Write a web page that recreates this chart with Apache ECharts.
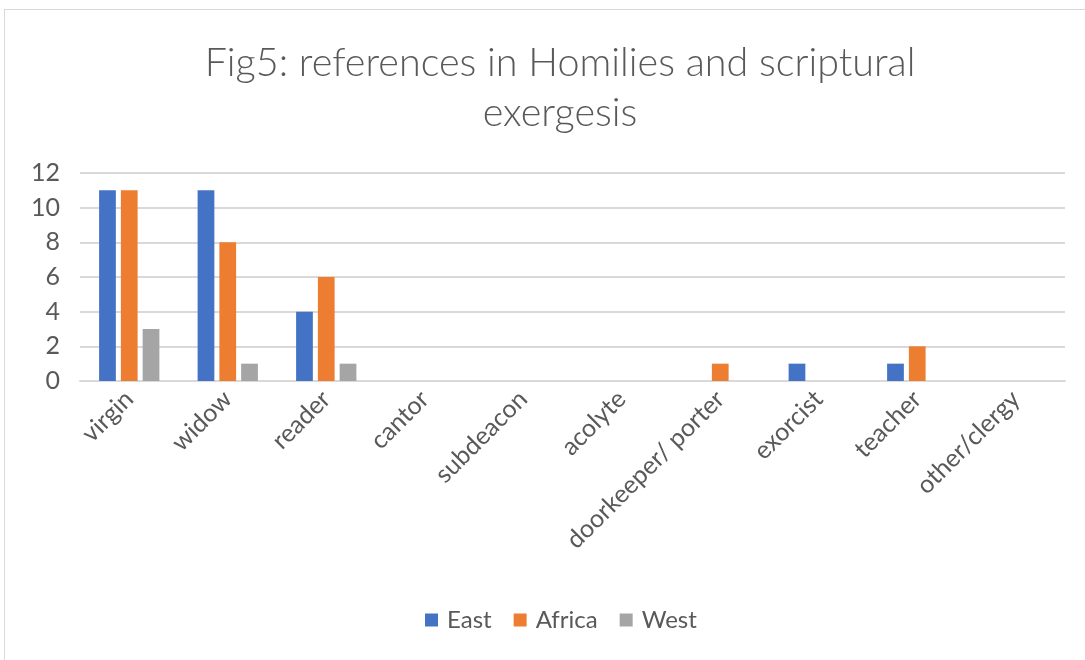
<!DOCTYPE html>
<html>
<head>
<meta charset="utf-8">
<script src="https://cdn.jsdelivr.net/npm/echarts@6/dist/echarts.min.js"></script>
<style>
  html, body { margin: 0; padding: 0; background: #fff; }
  #frame { position: absolute; left: 4px; top: 9px; width: 1090px; height: 660px; border: 1px solid #d9d9d9; box-sizing: border-box; }
  #chart { position: absolute; left: 0; top: 0; width: 1085px; height: 660px; }
</style>
</head>
<body>
<div id="frame"></div>
<div id="chart"></div>
<script>
var categories = ['virgin', 'widow', 'reader', 'cantor', 'subdeacon', 'acolyte', 'doorkeeper/ porter', 'exorcist', 'teacher', 'other/clergy'];
var east = [11, 11, 4, 0, 0, 0, 0, 1, 1, 0];
var africa = [11, 8, 6, 0, 0, 0, 1, 0, 2, 0];
var west = [3, 1, 1, 0, 0, 0, 0, 0, 0, 0];
var yTicks = { min: 0, max: 12, interval: 2 };

var font = "Lato, 'Liberation Sans', sans-serif";
var txt = '#595959';

function pageInit() {
    var myChart = echarts.init(document.getElementById('chart'));
    var option = {
        animation: false,
        title: {
            text: 'Fig5: references in Homilies and scriptural\nexergesis',
            left: 555,
            textAlign: 'center',
            top: 33,
            textStyle: { fontFamily: font, fontSize: 39.5, fontWeight: 300, color: txt, lineHeight: 50 }
        },
        legend: {
            bottom: 23,
            left: 420,
            itemWidth: 13,
            itemHeight: 13,
            itemGap: 22,
            icon: 'rect',
            textStyle: { fontFamily: font, fontSize: 24, color: txt, padding: [0, 0, 0, 4] }
        },
        grid: { left: 80, right: 20, top: 173, bottom: 279, containLabel: false },
        xAxis: {
            type: 'category',
            data: categories,
            axisLine: { lineStyle: { color: '#d9d9d9', width: 2 } },
            axisTick: { show: false },
            axisLabel: { rotate: 45, interval: 0, margin: 14, fontFamily: font, fontSize: 25, color: txt }
        },
        yAxis: {
            type: 'value',
            min: yTicks.min,
            max: yTicks.max,
            interval: yTicks.interval,
            axisLine: { show: false },
            axisTick: { show: false },
            splitLine: { lineStyle: { color: '#d9d9d9', width: 2 } },
            axisLabel: { margin: 20, fontFamily: font, fontSize: 25, color: txt }
        },
        series: [
            { name: 'East', type: 'bar', data: east, barWidth: '17%', barGap: '30%', itemStyle: { color: '#4472c4' } },
            { name: 'Africa', type: 'bar', data: africa, barWidth: '17%', barGap: '30%', itemStyle: { color: '#ed7d31' } },
            { name: 'West', type: 'bar', data: west, barWidth: '17%', barGap: '30%', itemStyle: { color: '#a5a5a5' } }
        ]
    };
    myChart.setOption(option);
}

window.onload = function () {
    pageInit();
}
</script>
</body>
</html>
